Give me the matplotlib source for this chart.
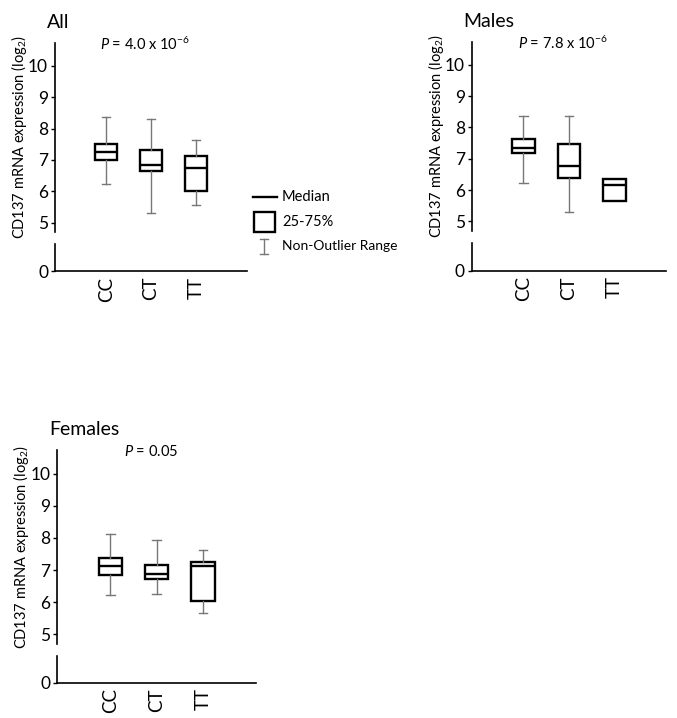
import matplotlib
matplotlib.use("Agg")
from matplotlib import pyplot as plt
from matplotlib.patches import Rectangle

plt.rcParams["font.family"] = ["Lato", "DejaVu Sans"]
plt.rcParams["mathtext.fontset"] = "custom"
plt.rcParams["mathtext.rm"] = "Lato"
plt.rcParams["mathtext.it"] = "Lato:italic"

groups = ["CC", "CT", "TT"]

# All
all_whislo = [6.22, 5.29, 5.56]
all_q1 = [6.99, 6.64, 6.01]
all_med = [7.26, 6.85, 6.73]
all_q3 = [7.50, 7.32, 7.14]
all_whishi = [8.36, 8.32, 7.64]

# Males (TT has no whiskers)
male_whislo = [6.23, 5.29, 5.66]
male_q1 = [7.18, 6.39, 5.66]
male_med = [7.34, 6.76, 6.17]
male_q3 = [7.63, 7.48, 6.35]
male_whishi = [8.36, 8.36, 6.35]

# Females
fem_whislo = [6.23, 6.25, 5.67]
fem_q1 = [6.85, 6.73, 6.03]
fem_med = [7.14, 6.87, 7.12]
fem_q3 = [7.39, 7.16, 7.24]
fem_whishi = [8.14, 7.93, 7.64]

W, H = 677, 718
fig = plt.figure(figsize=(W / 100, H / 100), dpi=100)


def px_axes(x0, x1, y0, y1):
	# pixel box (top-left origin) -> figure axes
	return fig.add_axes([x0 / W, (H - y1) / H, (x1 - x0) / W, (y1 - y0) / H])


def panel(x0, x1, ytop, ybot, ylow0, yzero, title, ptext, whislo, q1, med, q3, whishi):
	ax = px_axes(x0, x1, ytop, ybot)
	stats = []
	for i in range(len(groups)):
		stats.append(dict(whislo=whislo[i], q1=q1[i], med=med[i], q3=q3[i],
			whishi=whishi[i], fliers=[], label=groups[i]))
	res = ax.bxp(stats, positions=[1, 2, 3], widths=0.5, capwidths=0.19,
		patch_artist=True, showfliers=False,
		boxprops=dict(facecolor="white", edgecolor="black", linewidth=1.7),
		medianprops=dict(color="black", linewidth=1.7),
		whiskerprops=dict(color="#777777", linewidth=1),
		capprops=dict(color="#777777", linewidth=1))
	for i in range(len(groups)):
		if whislo[i] == q1[i] and whishi[i] == q3[i]:
			res["caps"][2 * i].set_visible(False)
			res["caps"][2 * i + 1].set_visible(False)
	ax.set_xlim(-0.14, 4.14)
	ax.set_ylim(4.69, 10.74)
	ax.set_yticks([5, 6, 7, 8, 9, 10])
	ax.set_xticks([])
	for s in ["top", "right", "bottom"]:
		ax.spines[s].set_visible(False)
	ax.spines["left"].set_linewidth(1.2)
	ax.tick_params(axis="y", length=3, width=1, labelsize=12.5, pad=2)
	ax.text(0.47, 0.99, ptext, transform=ax.transAxes, ha="center", va="center", fontsize=10.5)

	low = px_axes(x0, x1, ylow0, yzero)
	low.set_xlim(-0.14, 4.14)
	low.set_ylim(0, (yzero - ylow0) / 31.5)
	low.set_yticks([0])
	low.set_xticks([1, 2, 3])
	low.set_xticklabels(groups, rotation=90, fontsize=13.5)
	low.tick_params(axis="x", length=0, pad=4)
	low.tick_params(axis="y", length=3, width=1, labelsize=12.5, pad=2)
	for s in ["top", "right"]:
		low.spines[s].set_visible(False)
	low.spines["left"].set_linewidth(1.2)
	low.spines["bottom"].set_linewidth(1.2)

	fig.text((x0 - 36) / W, 1 - (ytop + ybot) / 2 / H,
		"CD137 mRNA expression (log$_{\\mathregular{2}}$)",
		rotation=90, ha="center", va="center", fontsize=10.5)
	fig.text((x0 - 8) / W, 1 - (ytop - 20) / H, title, ha="left", va="center", fontsize=14)


panel(55, 247, 42.7, 232.3, 244, 271, "All", "$P$ = 4.0 x 10$^{\\mathregular{-6}}$",
	all_whislo, all_q1, all_med, all_q3, all_whishi)
panel(471.7, 666, 41.7, 231, 243.3, 270.7, "Males", "$P$ = 7.8 x 10$^{\\mathregular{-6}}$",
	male_whislo, male_q1, male_med, male_q3, male_whishi)
panel(57.3, 256, 450, 644.3, 656, 682.7, "Females", "$P$ = 0.05",
	fem_whislo, fem_q1, fem_med, fem_q3, fem_whishi)

# legend, drawn in pixel space
lg = fig.add_axes([0, 0, 1, 1], zorder=-1)
lg.set_xlim(0, W)
lg.set_ylim(H, 0)
lg.axis("off")
lg.plot([253, 277], [196.7, 196.7], color="black", lw=1.7)
lg.add_patch(Rectangle((254, 212), 21, 19.5, fill=False, edgecolor="black", lw=1.7))
lg.plot([263.5, 263.5], [239, 254], color="#777777", lw=1)
lg.plot([259.5, 267.5], [239, 239], color="#777777", lw=1)
lg.plot([259.5, 267.5], [254, 254], color="#777777", lw=1)
lg.text(282, 196.7, "Median", va="center", ha="left", fontsize=10.5)
lg.text(282, 222.5, "25-75%", va="center", ha="left", fontsize=10.5)
lg.text(282, 246.5, "Non-Outlier Range", va="center", ha="left", fontsize=10)

fig.savefig("out.png", dpi=100)
